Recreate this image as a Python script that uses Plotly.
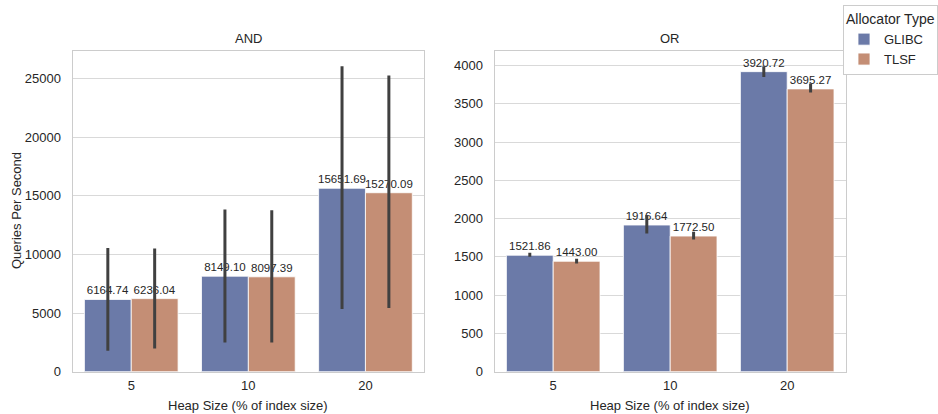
import plotly.graph_objects as go

heap_sizes = ["5", "10", "20"]
allocators = ["GLIBC", "TLSF"]

and_glibc = [6164.74, 8149.10, 15651.69]
and_glibc_hi = [10560, 13830, 26060]
and_glibc_lo = [1790, 2500, 5340]
and_tlsf = [6236.04, 8097.39, 15270.09]
and_tlsf_hi = [10510, 13770, 25270]
and_tlsf_lo = [1990, 2500, 5430]

or_glibc = [1521.86, 1916.64, 3920.72]
or_glibc_hi = [1553, 2046, 3991]
or_glibc_lo = [1501, 1807, 3851]
or_tlsf = [1443.00, 1772.50, 3695.27]
or_tlsf_hi = [1475, 1828, 3765]
or_tlsf_lo = [1415, 1728, 3647]

colors = {"GLIBC": "rgb(107,122,168)", "TLSF": "rgb(196,142,117)"}
FONT = "Liberation Sans, Arial, sans-serif"
TXT = "#262626"

fig = go.Figure()

def add(name, vals, hi, lo, xa, ya, show):
    fig.add_trace(go.Bar(
        x=heap_sizes, y=vals, name=name, legendgroup=name, showlegend=show,
        marker=dict(color=colors[name], line=dict(color="rgba(255,255,255,0.8)", width=1)),
        error_y=dict(type="data", symmetric=False,
                     array=[h - v for h, v in zip(hi, vals)],
                     arrayminus=[v - l for v, l in zip(vals, lo)],
                     color="#404040", thickness=3, width=0),
        text=[f"{v:.2f}" for v in vals], textposition="outside",
        textfont=dict(size=11.5, color=TXT, family=FONT),
        constraintext="none", cliponaxis=False,
        xaxis=xa, yaxis=ya,
    ))

add("GLIBC", and_glibc, and_glibc_hi, and_glibc_lo, "x", "y", True)
add("TLSF", and_tlsf, and_tlsf_hi, and_tlsf_lo, "x", "y", True)
add("GLIBC", or_glibc, or_glibc_hi, or_glibc_lo, "x2", "y2", False)
add("TLSF", or_tlsf, or_tlsf_hi, or_tlsf_lo, "x2", "y2", False)

and_top = max(and_glibc_hi + and_tlsf_hi) * 1.05
or_top = max(or_glibc_hi + or_tlsf_hi) * 1.05

axis_common = dict(showline=True, mirror=True, linecolor="#cccccc", linewidth=1.25,
                   tickfont=dict(size=13, color=TXT, family=FONT), ticks="",
                   automargin=False)

ydom = [1 - 371.7 / 414, 1 - 51 / 414]
fig.update_layout(
    width=938, height=414,
    margin=dict(l=0, r=0, t=0, b=0, autoexpand=False),
    paper_bgcolor="white", plot_bgcolor="white",
    barmode="group", bargap=0.2, bargroupgap=0,
    font=dict(family=FONT, color=TXT, size=13),
    xaxis=dict(domain=[72.7 / 938, 424 / 938], type="category", showgrid=False, anchor="y",
               ticklabelstandoff=2, **axis_common),
    yaxis=dict(domain=ydom, range=[0, and_top], dtick=5000, tickformat="d", showgrid=True,
               gridcolor="#d9d9d9", gridwidth=1, zeroline=False, anchor="x",
               ticklabelstandoff=8, **axis_common),
    xaxis2=dict(domain=[494.7 / 938, 845.7 / 938], type="category", showgrid=False, anchor="y2",
                ticklabelstandoff=2, **axis_common),
    yaxis2=dict(domain=ydom, range=[0, or_top], dtick=500, tickformat="d", showgrid=True,
                gridcolor="#d9d9d9", gridwidth=1, zeroline=False, anchor="x2",
                ticklabelstandoff=8, **axis_common),
    legend=dict(x=843 / 938, y=1 - 5 / 414, xanchor="left", yanchor="top",
                title=dict(text="Allocator Type", font=dict(size=14, color=TXT)),
                font=dict(size=13, color=TXT), bordercolor="#cccccc", borderwidth=1,
                bgcolor="white", tracegroupgap=0),
    showlegend=True,
)

ann = [
    dict(text="AND", x=(72.7 + 424) / 2 / 938, y=1 - 39 / 414),
    dict(text="OR", x=(494.7 + 845.7) / 2 / 938, y=1 - 39 / 414),
    dict(text="Heap Size (% of index size)", x=(72.7 + 424) / 2 / 938, y=1 - 405 / 414),
    dict(text="Heap Size (% of index size)", x=(494.7 + 845.7) / 2 / 938, y=1 - 405 / 414),
    dict(text="Queries Per Second", x=16 / 938, y=1 - 211 / 414, textangle=-90),
]
for a in ann:
    fig.add_annotation(xref="paper", yref="paper", showarrow=False, xanchor="center",
                       yanchor="middle", font=dict(size=13, color=TXT, family=FONT), **a)

fig.write_html("out.html")
